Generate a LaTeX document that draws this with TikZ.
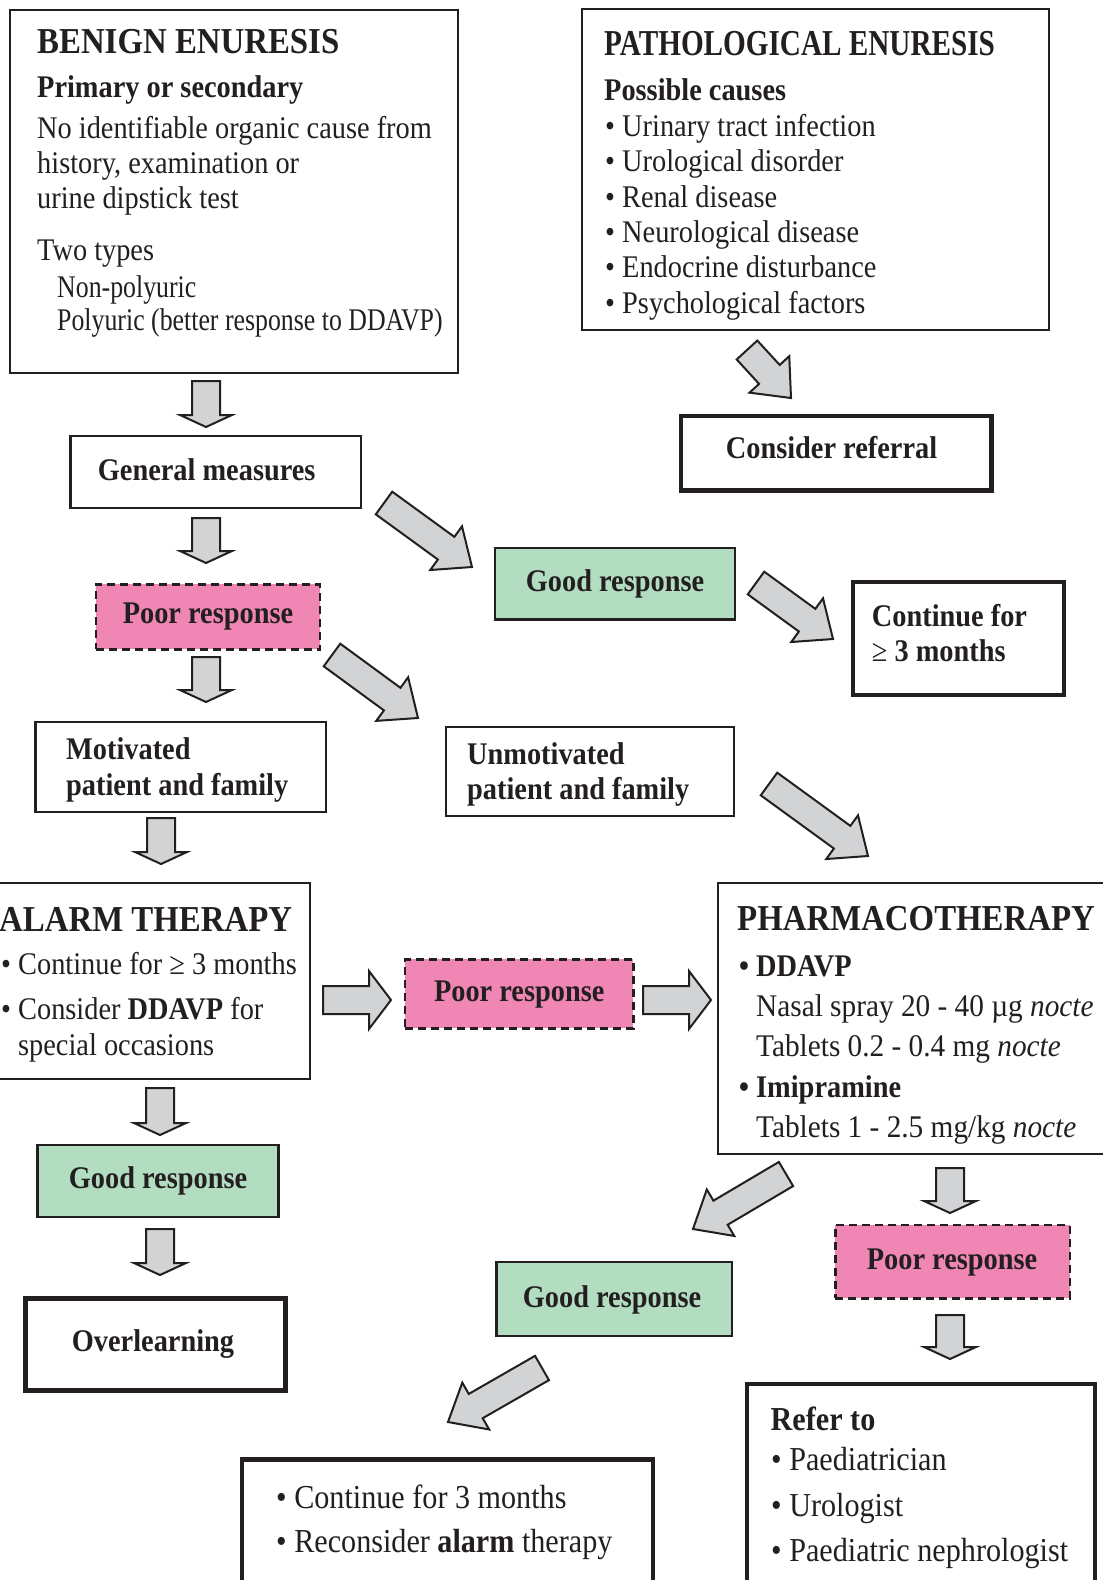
\documentclass[tikz,border=0pt]{standalone}
\usepackage{fontspec}
\setmainfont{Liberation Serif}[FakeStretch=0.9]
\newfontfamily\pathofont{Liberation Serif}[FakeStretch=0.8]
\newfontfamily\narrowfont{Liberation Serif}[FakeStretch=0.82]
\newfontfamily\pharmfont{Liberation Serif}[FakeStretch=0.93]
\usetikzlibrary{calc}
\definecolor{ink}{RGB}{35,31,32}
\definecolor{pinkfill}{RGB}{240,134,180}
\definecolor{greenfill}{RGB}{179,221,193}
\definecolor{arrowgray}{RGB}{209,211,212}
\newcommand\fsbody{\fontsize{31.5}{36}\selectfont}
\newcommand\fsbig{\fontsize{33.5}{38}\selectfont}
\newcommand\fstitle{\fontsize{36.5}{40}\selectfont}
% block arrow: tail, tip, head length, shaft half width, head half width
\newcommand\blockarrow[5]{%
  \coordinate (hb) at ($(#2)!#3!(#1)$);
  \filldraw[arrowbox] ($(#1)!#4!90:(#2)$) -- ($(hb)!#4!-90:(#1)$) -- ($(hb)!#5!-90:(#1)$) -- (#2)
     -- ($(hb)!#5!90:(#1)$) -- ($(hb)!#4!90:(#1)$) -- ($(#1)!#4!-90:(#2)$) -- cycle;}
\begin{document}
\begin{tikzpicture}[x=1pt,y=-1pt,
  thinbox/.style={draw=ink,line width=2.2pt,inner sep=0pt,outer sep=0pt},
  thickbox/.style={draw=ink,line width=4.5pt,inner sep=0pt,outer sep=0pt},
  greenbox/.style={thinbox,fill=greenfill},
  pinkbox/.style={draw=ink,line width=2.4pt,dash pattern=on 8pt off 5pt,fill=pinkfill,inner sep=0pt,outer sep=0pt},
  txt/.style={anchor=base west,inner sep=0pt,text=ink,font=\fsbody},
  btxt/.style={anchor=base west,inner sep=0pt,text=ink,font=\fsbody\bfseries},
  ctxt/.style={anchor=base,inner sep=0pt,text=ink,font=\fsbody\bfseries},
  ttl/.style={anchor=base west,inner sep=0pt,text=ink,font=\fstitle\bfseries},
  arrowbox/.style={draw=ink,fill=arrowgray,line width=2pt,line join=miter}]
\useasboundingbox (0,0) rectangle (1103,1580);
\clip (0,0) rectangle (1103,1580);
\fill[white] (0,0) rectangle (1103,1580);

% ---------- boxes ----------
\node[thinbox,minimum width=448pt,minimum height=363pt] (benign) at (234,191.5) {};
\node[thinbox,minimum width=466.7pt,minimum height=320.7pt] (patho) at (815.7,169.7) {};
\node[thickbox,minimum width=310.7pt,minimum height=74.7pt] (referral) at (836.3,453.3) {};
\node[thinbox,minimum width=290.5pt,minimum height=71.7pt] (general) at (215.8,471.9) {};
\node[greenbox,minimum width=240.7pt,minimum height=71.5pt] (good1) at (615,583.8) {};
\node[pinkbox,minimum width=224.3pt,minimum height=65pt] (poor1) at (207.9,616.8) {};
\node[thickbox,minimum width=211.3pt,minimum height=113.3pt] (cont) at (958.4,638.4) {};
\node[thinbox,minimum width=290.2pt,minimum height=90pt] (motiv) at (180.5,766.7) {};
\node[thinbox,minimum width=287.8pt,minimum height=89.3pt] (unmot) at (589.9,771.4) {};
\node[thinbox,minimum width=330pt,minimum height=195.7pt] (alarm) at (145,981.2) {};
\node[pinkbox,minimum width=228.3pt,minimum height=69pt] (poor2) at (519.2,993.8) {};
\node[thinbox,minimum width=411.7pt,minimum height=270.7pt] (pharma) at (924.2,1018.7) {};
\node[greenbox,minimum width=241.1pt,minimum height=72.3pt] (good2) at (158,1181.2) {};
\node[thickbox,minimum width=260pt,minimum height=92.4pt] (overl) at (155.7,1344.5) {};
\node[greenbox,minimum width=235.6pt,minimum height=74pt] (good3) at (614.2,1298.7) {};
\node[pinkbox,minimum width=234.4pt,minimum height=73.3pt] (poor3) at (952.5,1261.7) {};
\node[thickbox,minimum width=410.8pt,minimum height=160.7pt] (bottom) at (447.4,1539.7) {};
\node[thickbox,minimum width=348pt,minimum height=236pt] (referto) at (921,1502) {};

% ---------- arrow end points ----------
\coordinate (a1t) at (206,381);  \coordinate (a1h) at (206,427);
\coordinate (a2t) at (206,518);  \coordinate (a2h) at (206,563);
\coordinate (a3t) at (206,657);  \coordinate (a3h) at (206,702);
\coordinate (a4t) at (161,818);  \coordinate (a4h) at (161,864);
\coordinate (a5t) at (160,1088); \coordinate (a5h) at (160,1135);
\coordinate (a6t) at (160,1229); \coordinate (a6h) at (160,1275);
\coordinate (a7t) at (950,1168); \coordinate (a7h) at (950,1213);
\coordinate (a8t) at (950,1315); \coordinate (a8h) at (950,1359);
\coordinate (h1t) at (323,1000); \coordinate (h1h) at (391,1000);
\coordinate (h2t) at (643,1000); \coordinate (h2h) at (711,1000);
\coordinate (d1t) at (747,350);  \coordinate (d1h) at (791,398);
\coordinate (d2t) at (384,503);  \coordinate (d2h) at (472,567);
\coordinate (d3t) at (756,583);  \coordinate (d3h) at (833,639);
\coordinate (d4t) at (332,655);  \coordinate (d4h) at (418,718);
\coordinate (d5t) at (769,784);  \coordinate (d5h) at (868,856);
\coordinate (d6t) at (786,1174); \coordinate (d6h) at (693,1229);
\coordinate (d7t) at (542,1368); \coordinate (d7h) at (448,1422);

\foreach \n in {a1,a2,a3,a4,a5,a6,a7,a8}{\blockarrow{\n t}{\n h}{12pt}{14pt}{26pt}}
\foreach \n in {h1,h2}{\blockarrow{\n t}{\n h}{22pt}{14pt}{29pt}}
\foreach \n in {d1,d2,d3,d4,d5,d6,d7}{\blockarrow{\n t}{\n h}{32pt}{14pt}{27pt}}

% ---------- texts ----------
\node[ttl] (bt) at (37,53) {BENIGN ENURESIS};
\node[btxt] (bs) at (37,97) {Primary or secondary};
\node[txt] (b1) at (37,138) {No identifiable organic cause from};
\node[txt] (b2) at (37,173) {history, examination or};
\node[txt] (b3) at (37,208) {urine dipstick test};
\node[txt] (b4) at (37,260) {Two types};
\node[txt,font=\fsbody\narrowfont] (b5) at (57,297) {Non-polyuric};
\node[txt,font=\fsbody\narrowfont] (b6) at (57,330) {Polyuric (better response to DDAVP)};

\node[ttl,font=\fstitle\pathofont\bfseries] (pt) at (604,55) {PATHOLOGICAL ENURESIS};
\node[btxt] (ps) at (604,100) {Possible causes};
\node[txt] (p1) at (605,136.7) {•~Urinary tract infection};
\node[txt] (p2) at (605,171.7) {•~Urological disorder};
\node[txt] (p3) at (605,207.3) {•~Renal disease};
\node[txt] (p4) at (605,242.3) {•~Neurological disease};
\node[txt] (p5) at (605,277.7) {•~Endocrine disturbance};
\node[txt] (p6) at (605,313.3) {•~Psychological factors};

\node[ctxt] (rt) at (831.5,458.3) {Consider referral};
\node[btxt] (gt) at (97.7,480) {General measures};
\node[ctxt] (g1t) at (615,591) {Good response};
\node[ctxt] (p1t) at (208,623) {Poor response};
\node[btxt] (ct1) at (871.7,626.7) {Continue for};
\node[btxt] (ct2) at (871.7,661.7) {{\mdseries ≥} 3 months};
\node[btxt] (mt1) at (66,759.3) {Motivated};
\node[btxt] (mt2) at (66,795) {patient and family};
\node[btxt] (ut1) at (467,764.3) {Unmotivated};
\node[btxt] (ut2) at (467,799.3) {patient and family};

\node[ttl] (at) at (-1,931.7) {ALARM THERAPY};
\node[txt] (al1) at (1,974) {•~Continue for ≥ 3 months};
\node[txt] (al2) at (1,1019) {•~Consider \textbf{DDAVP} for};
\node[txt] (al3) at (18,1055.7) {special occasions};
\node[ctxt] (p2t) at (519.2,1001.7) {Poor response};

\node[ttl] (pht) at (737,930) {PHARMACOTHERAPY};
\node[txt,font=\fsbody\bfseries] (ph1) at (739,976) {•~DDAVP};
\node[txt,font=\fsbody\pharmfont] (ph2) at (756,1016) {Nasal spray 20 - 40 µg \textit{nocte}};
\node[txt,font=\fsbody\pharmfont] (ph3) at (756,1056) {Tablets 0.2 - 0.4 mg \textit{nocte}};
\node[txt,font=\fsbody\bfseries] (ph4) at (739,1097.7) {•~Imipramine};
\node[txt,font=\fsbody\pharmfont] (ph5) at (756,1137.7) {Tablets 1 - 2.5 mg/kg \textit{nocte}};

\node[ctxt] (g2t) at (158,1188.3) {Good response};
\node[ctxt] (ot) at (153,1351.7) {Overlearning};
\node[ctxt] (g3t) at (612,1307) {Good response};
\node[ctxt] (p3t) at (952,1269.3) {Poor response};

\node[txt,font=\fsbig] (bo1) at (276,1508) {•~Continue for 3 months};
\node[txt,font=\fsbig] (bo2) at (276,1552) {•~Reconsider \textbf{alarm} therapy};

\node[btxt,font=\fsbig\bfseries] (rft) at (770.5,1430) {Refer to};
\node[txt,font=\fsbig] (rf1) at (771,1470) {•~Paediatrician};
\node[txt,font=\fsbig] (rf2) at (771,1516) {•~Urologist};
\node[txt,font=\fsbig] (rf3) at (771,1561.7) {•~Paediatric nephrologist};
\end{tikzpicture}
\end{document}
